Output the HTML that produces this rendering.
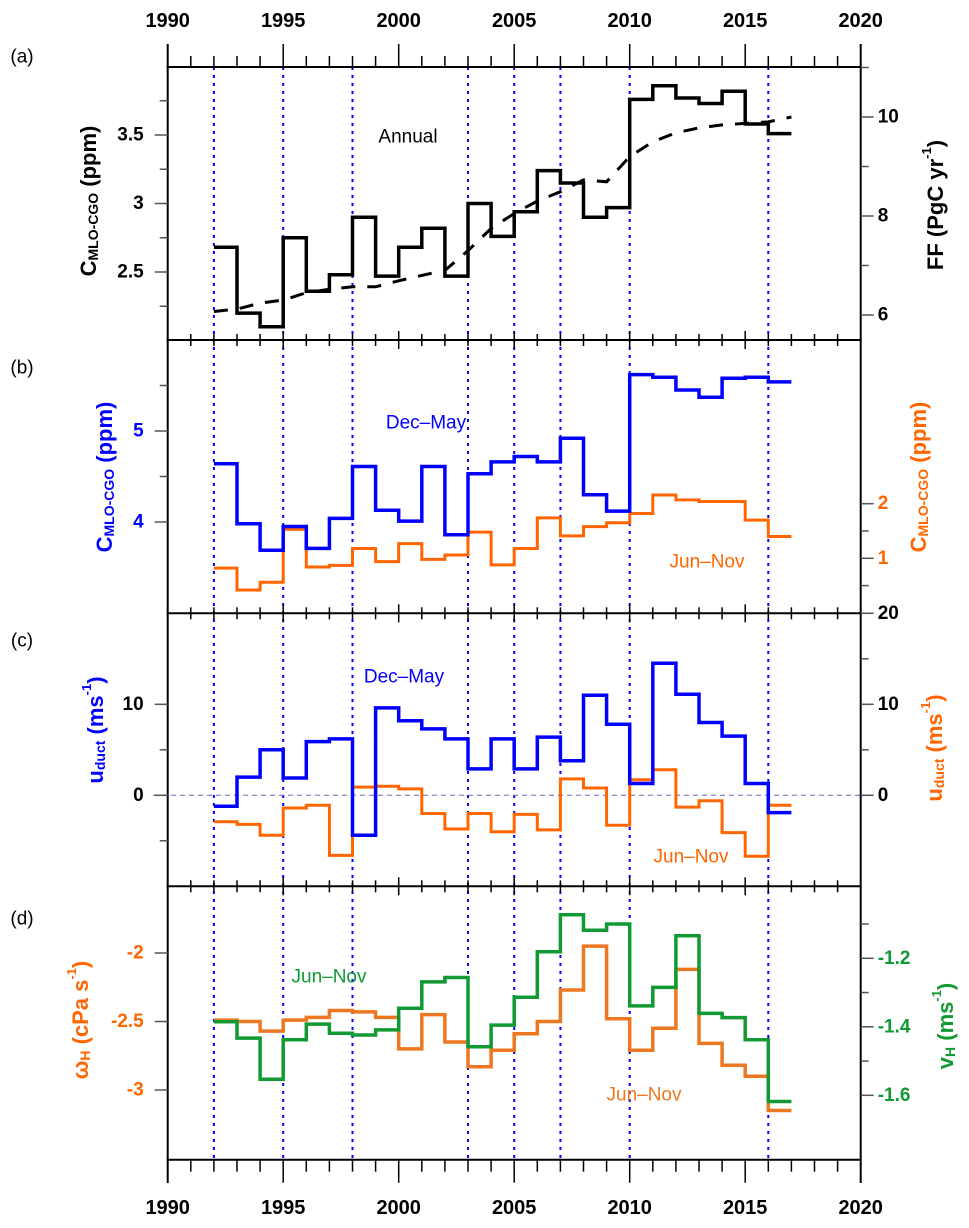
<!DOCTYPE html>
<html><head><meta charset="utf-8"><style>
html,body{margin:0;padding:0;background:#fff;}
svg{display:block;font-family:"Liberation Sans",Arial,sans-serif;}
</style></head><body>
<svg id="chart" width="969" height="1228" viewBox="0 0 969 1228" xmlns="http://www.w3.org/2000/svg"></svg>
<script>
// ---- data ----
const years = [1992,1993,1994,1995,1996,1997,1998,1999,2000,2001,2002,2003,2004,2005,2006,2007,2008,2009,2010,2011,2012,2013,2014,2015,2016];
const annualC = [2.68,2.20,2.10,2.75,2.36,2.48,2.90,2.47,2.68,2.82,2.47,3.00,2.76,2.94,3.24,3.15,2.90,2.97,3.76,3.86,3.77,3.73,3.82,3.58,3.51];
const ffYears = [1992,1993,1994,1995,1996,1997,1998,1999,2000,2001,2002,2003,2004,2005,2006,2007,2008,2009,2010,2011,2012,2013,2014,2015,2016,2017];
const ffValues = [6.07,6.12,6.24,6.30,6.45,6.52,6.57,6.57,6.69,6.80,6.90,7.30,7.75,8.05,8.30,8.49,8.73,8.69,9.20,9.50,9.68,9.78,9.84,9.87,9.90,10.0];
const decMayC = [4.64,3.98,3.69,3.95,3.71,4.04,4.61,4.13,4.01,4.61,3.86,4.53,4.66,4.72,4.66,4.92,4.30,4.12,5.62,5.59,5.45,5.37,5.58,5.59,5.54];
const junNovC = [0.82,0.42,0.56,1.53,0.84,0.87,1.18,0.94,1.27,0.98,1.06,1.48,0.88,1.18,1.74,1.41,1.58,1.65,1.82,2.16,2.07,2.04,2.04,1.70,1.40];
const decMayU = [-1.2,2.0,5.0,1.9,5.9,6.2,-4.4,9.6,8.2,7.3,6.2,2.9,6.2,2.9,6.4,3.8,11.0,7.8,1.3,14.5,11.1,8.0,6.5,1.3,-1.9];
const junNovU = [-2.9,-3.2,-4.4,-1.4,-1.1,-6.6,0.9,1.0,0.7,-2.0,-3.7,-2.0,-4.0,-2.1,-3.8,1.8,0.8,-3.3,1.7,2.8,-1.3,-0.6,-4.1,-6.7,-1.1];
const omegaH = [-2.49,-2.50,-2.57,-2.49,-2.47,-2.42,-2.43,-2.47,-2.70,-2.45,-2.65,-2.83,-2.71,-2.59,-2.50,-2.27,-1.95,-2.48,-2.71,-2.55,-2.12,-2.66,-2.82,-2.90,-3.15];
const vH = [-1.385,-1.433,-1.553,-1.438,-1.392,-1.419,-1.424,-1.409,-1.346,-1.269,-1.256,-1.458,-1.395,-1.314,-1.181,-1.073,-1.118,-1.100,-1.339,-1.285,-1.134,-1.361,-1.373,-1.438,-1.618];
const eventYears = [1992,1995,1998,2003,2005,2007,2010,2016];
const xTickLabels = [1990,1995,2000,2005,2010,2015,2020];

// ---- layout ----
const svg = document.getElementById('chart');
const NS = 'http://www.w3.org/2000/svg';
const X0 = 167.7, X1 = 860.7;
function xs(yr){ return X0 + (yr-1990)*(X1-X0)/30; }
function lin(v0,p0,v1,p1){ return v => p0 + (v-v0)*(p1-p0)/(v1-v0); }
const ya = lin(3.5,135,2.5,272), ya2 = lin(10,117,6,315);
const yb = lin(5,431,4,522), yb2 = lin(2,503.7,1,558.3);
const yc = lin(10,704.3,0,795.3);
const yd = lin(-2,953,-3,1090), yd2 = lin(-1.2,958.3,-1.6,1095.3);
const panelEdges = [67,340,613.3,886.3,1159.7];

function mk(tag, attrs, parent){
  const e = document.createElementNS(NS, tag);
  for (const k in attrs) e.setAttribute(k, attrs[k]);
  (parent||svg).appendChild(e);
  return e;
}
function line(x1,y1,x2,y2,stroke,w,name){
  const e = mk('line',{x1,y1,x2,y2,stroke,'stroke-width':w});
  
  
  return e;
}
function text(x,y,s,opts,name){
  const e = mk('text',{x,y,'font-size':opts.size||19,'font-weight':opts.weight||'bold',fill:opts.fill||'#000','text-anchor':opts.anchor||'middle','dominant-baseline':'central'});
  e.textContent = s;
  
  
  return e;
}

eventYears.forEach(yr=>{
  const e = mk('line',{x1:xs(yr),y1:67,x2:xs(yr),y2:1159.7,stroke:'#0000ff','stroke-width':2,'stroke-dasharray':'3,5'});
  
  
});
const zl = mk('line',{x1:153,y1:yc(0),x2:873,y2:yc(0),stroke:'#6666bb','stroke-width':1,'stroke-dasharray':'5,4'});



line(X0,44,X0,1183,'#000',2,'left-axis');
line(X1,44,X1,1183,'#000',2,'right-axis');
panelEdges.forEach((y,i)=>line(X0-1,y,X1+1,y,'#000',2,'panel-border-'+i));
for(let yr=1990; yr<=2020; yr++){
  const major = yr%5===0, x = xs(yr);
  if(yr===1990||yr===2020) continue;
  line(x,67-(major?23:11),x,67,'#000',1.5,'top-tick');
  line(x,1159.7,x,1159.7+(major?23:12),'#000',1.5,'bottom-tick');
  [340,613.3,886.3].forEach(y=>line(x,y-(major?9:6),x,y+(major?9:6),'#000',1.5,'mid-tick'));
}
xTickLabels.forEach(yr=>{
  text(xs(yr),21,String(yr),{size:20},'top-x-label-'+yr);
  text(xs(yr),1208,String(yr),{size:20},'bottom-x-label-'+yr);
});

function yticks(scale, majors, minors, side, labels, color){
  majors.forEach((v,i)=>{
    const y = scale(v);
    if(side==='L'){ line(X0-13,y,X0,y,'#555',1.5,'y-tick'); text(X0-24,y,labels[i],{anchor:'end',fill:color},'y-tick-label'); }
    else { line(X1,y,X1+13,y,'#555',1.5,'y2-tick'); text(X1+17,y,labels[i],{anchor:'start',fill:color},'y2-tick-label'); }
  });
  minors.forEach(v=>{
    const y = scale(v);
    if(side==='L') line(X0-8,y,X0,y,'#555',1.5,'y-minor-tick'); else line(X1,y,X1+8,y,'#555',1.5,'y2-minor-tick');
  });
}
yticks(ya,[3.5,3,2.5],[3.75,3.25,2.75,2.25],'L',['3.5','3','2.5'],'#000');
yticks(ya2,[10,8,6],[11,9,7],'R',['10','8','6'],'#000');
yticks(yb,[5,4],[5.5,4.5],'L',['5','4'],'#0000ff');
yticks(yb2,[2,1],[1.5,0.5],'R',['2','1'],'#ff6600');
yticks(yc,[10,0],[5,-5],'L',['10','0'],'#000');
yticks(yc,[20,10,0],[15,5],'R',['20','10','0'],'#000');
yticks(yd,[-2,-2.5,-3],[],'L',['-2','-2.5','-3'],'#ff6600');
yticks(yd2,[-1.2,-1.4,-1.6],[-1.1,-1.3,-1.5],'R',['-1.2','-1.4','-1.6'],'#119933');

function step(vals, scale, color, w, name){
  let d = '';
  vals.forEach((v,i)=>{
    const x0 = xs(years[i]), x1 = xs(years[i]+1), y = scale(v);
    d += (i===0?'M':'L')+x0.toFixed(1)+','+y.toFixed(1)+' L'+x1.toFixed(1)+','+y.toFixed(1)+' ';
  });
  const p = mk('path',{d,fill:'none',stroke:color,'stroke-width':w,'stroke-linejoin':'miter'});
  
  
}
let dd='';
ffYears.forEach((yr,i)=>{ dd += (i===0?'M':'L')+xs(yr).toFixed(1)+','+ya2(ffValues[i]).toFixed(1)+' '; });
const ff = mk('path',{d:dd,fill:'none',stroke:'#000','stroke-width':3,'stroke-dasharray':'14,12'});



step(annualC, ya, '#000', 3.5, 'annual-c-series');
step(junNovC, yb2, '#ff6600', 3, 'jun-nov-c-series');
step(decMayC, yb, '#0000ff', 3.5, 'dec-may-c-series');
step(junNovU, yc, '#ff6600', 3, 'jun-nov-u-series');
step(decMayU, yc, '#0000ff', 3.5, 'dec-may-u-series');
step(omegaH, yd, '#ee7722', 3.5, 'omega-h-series');
step(vH, yd2, '#119933', 3.5, 'v-h-series');

text(408,137,'Annual',{size:19,weight:'normal'},'annual-label');
text(426,423,'Dec\u2013May',{size:19,weight:'normal',fill:'#0000ff'},'dec-may-label-b');
text(707,562,'Jun\u2013Nov',{size:19,weight:'normal',fill:'#ff6600'},'jun-nov-label-b');
text(404,677,'Dec\u2013May',{size:19,weight:'normal',fill:'#0000ff'},'dec-may-label-c');
text(691,857,'Jun\u2013Nov',{size:19,weight:'normal',fill:'#ff6600'},'jun-nov-label-c');
text(329,977,'Jun\u2013Nov',{size:19,weight:'normal',fill:'#119933'},'jun-nov-label-d-green');
text(644,1095,'Jun\u2013Nov',{size:19,weight:'normal',fill:'#ee7722'},'jun-nov-label-d-orange');
['a','b','c','d'].forEach((l,i)=>text(22,[57,368,641,919][i],'('+l+')',{size:19,weight:'normal'},'panel-label-'+l));

function vtitle(x,y,parts,color,name){
  const t = mk('text',{x:0,y:0,'font-size':22,'font-weight':'bold',fill:color,'text-anchor':'middle','dominant-baseline':'central',transform:`translate(${x},${y}) rotate(-90)`});
  
  
  parts.forEach(p=>{
    const s = mk('tspan',{},t);
    if(p[1]==='sub'){ s.setAttribute('font-size',14); s.setAttribute('dy',5); }
    else if(p[1]==='sup'){ s.setAttribute('font-size',13); s.setAttribute('dy',-9); }
    else if(p[1]==='back'){ s.setAttribute('dy',-5); }
    else if(p[1]==='down'){ s.setAttribute('dy',9); }
    s.textContent = p[0];
  });
}
vtitle(88,201,[['C',''],['MLO-CGO','sub'],[' (ppm)','back']],'#000','left-title-a');
vtitle(935,205,[['FF (PgC yr',''],['-1','sup'],[')','down']],'#000','right-title-a');
vtitle(104,477,[['C',''],['MLO-CGO','sub'],[' (ppm)','back']],'#0000ff','left-title-b');
vtitle(918,477,[['C',''],['MLO-CGO','sub'],[' (ppm)','back']],'#ff6600','right-title-b');
vtitle(95,730,[['u',''],['duct','sub'],[' (ms','back'],['-1','sup'],[')','down']],'#0000ff','left-title-c');
vtitle(934,748,[['u',''],['duct','sub'],[' (ms','back'],['-1','sup'],[')','down']],'#ff6600','right-title-c');
vtitle(80,1020,[['\u03c9',''],['H','sub'],[' (cPa s','back'],['-1','sup'],[')','down']],'#ff6600','left-title-d');
vtitle(945,1026,[['v',''],['H','sub'],['  (ms','back'],['-1','sup'],[')','down']],'#119933','right-title-d');
</script>
</body></html>
